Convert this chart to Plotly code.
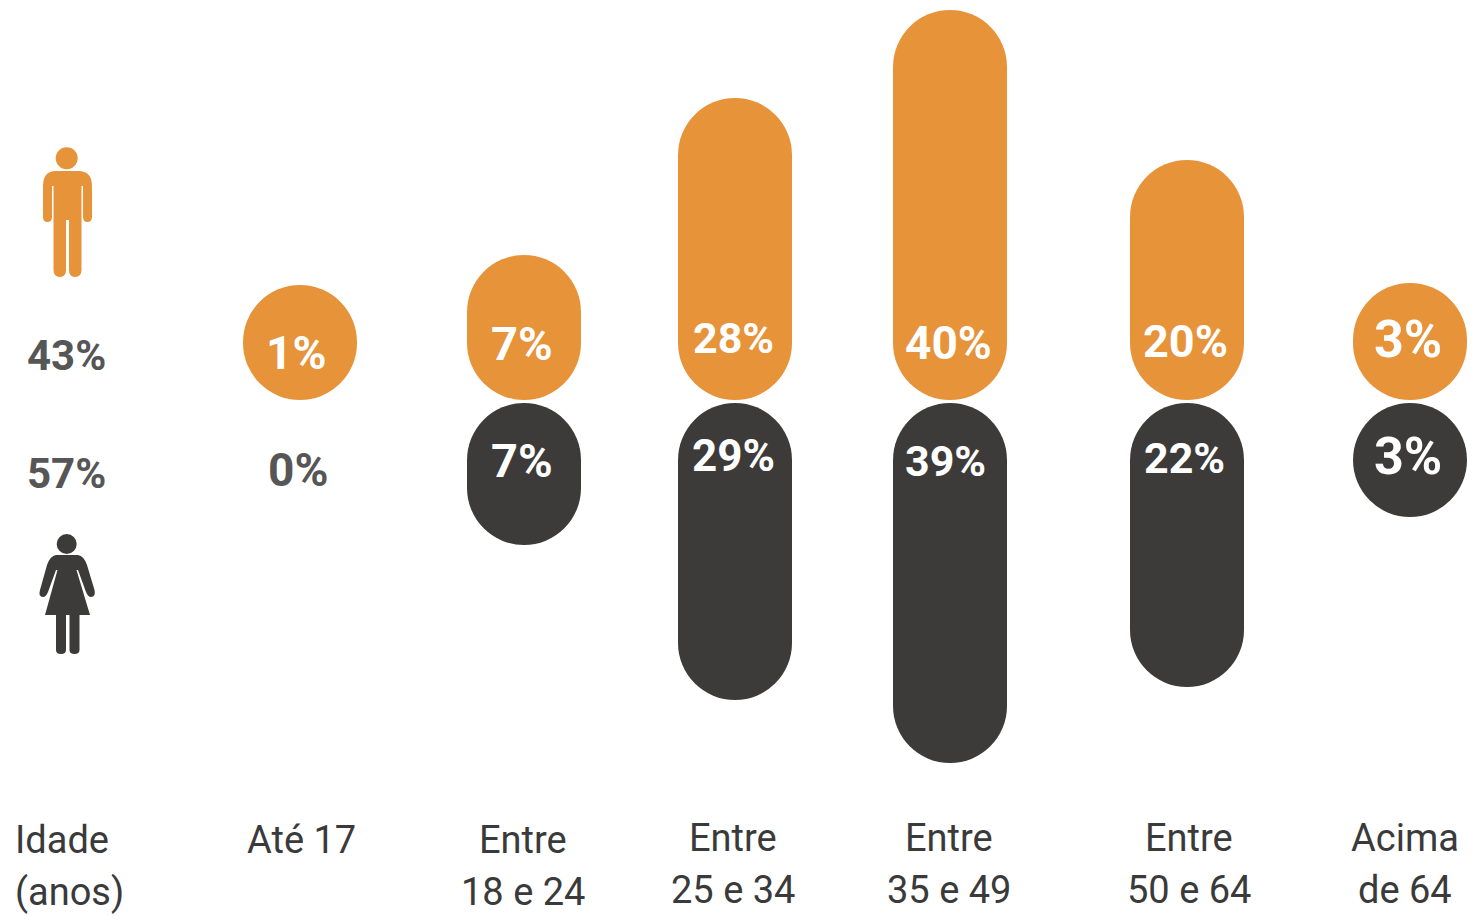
import plotly.graph_objects as go

# ---- data ----
age_groups = ["Até 17", "Entre<br>18 e 24", "Entre<br>25 e 34", "Entre<br>35 e 49", "Entre<br>50 e 64", "Acima<br>de 64"]
men_pct = [1, 7, 28, 40, 20, 3]
women_pct = [0, 7, 29, 39, 22, 3]
men_pill_length = [115, 145, 302, 390, 240, 117]
women_pill_length = [0, 142, 297, 360, 284, 114]
men_total = "43%"
women_total = "57%"
axis_title = "Idade<br>(anos)"

# ---- layout constants ----
W, H = 1480, 923
MID = 401.5
GAP = 1.5
PILL = 114
group_x = [300, 524, 735, 950, 1187, 1410]
men_label_y = [353, 343, 338, 343, 341, 339]
women_label_y = [470, 460, 456, 461, 458, 456]
men_label_x = [296, 522, 733, 948, 1185, 1408]
women_label_x = [298, 522, 733, 945, 1184, 1408]
men_label_size = [46, 47, 43, 46, 45, 52]
women_label_size = [46, 47, 44, 43, 43, 52]
cat_x = [301, 523, 733, 949, 1189, 1405]
cat_y1 = [840, 840, 838, 838, 838, 838]
ORANGE = "#E6933A"
DARK = "#3D3B3A"
GREY = "#565656"
TEXT = "#3A3A3A"
FONT = "Roboto"


def Y(py):
    return MID - py


fig = go.Figure()


def add_pills(lengths, direction, color, name):
    fig.add_trace(go.Bar(
        x=group_x, y=[direction * v for v in lengths], base=[direction * GAP] * len(lengths), width=PILL,
        marker=dict(color=color, cornerradius="50%", line=dict(width=0)),
        name=name, showlegend=False, hoverinfo="skip",
    ))


add_pills(men_pill_length, 1, ORANGE, "Homens")
add_pills(women_pill_length, -1, DARK, "Mulheres")

annotations = []


def note(x, py, text, size, color, bold=True):
    annotations.append(dict(
        x=x, y=Y(py), xref="x", yref="y", text=f"<b>{text}</b>" if bold else text, showarrow=False,
        font=dict(family=FONT, size=size, color=color), xanchor="center", yanchor="middle",
    ))


for i, x in enumerate(group_x):
    note(men_label_x[i], men_label_y[i], f"{men_pct[i]}%", men_label_size[i], "white")
    note(women_label_x[i], women_label_y[i], f"{women_pct[i]}%", women_label_size[i],
         GREY if women_pct[i] == 0 else "white")

note(66, 355, men_total, 42, GREY)
note(66, 473, women_total, 42, GREY)

for x, py, label in zip(cat_x, cat_y1, age_groups):
    for j, part in enumerate(label.split("<br>")):
        note(x, py + 52 * j, part, 38, TEXT, bold=False)
for j, part in enumerate(axis_title.split("<br>")):
    annotations.append(dict(
        x=13, y=Y(840 + 52 * j), xref="x", yref="y", text=part, showarrow=False,
        font=dict(family=FONT, size=38, color=TEXT), xanchor="left", yanchor="middle",
    ))


def path(points):
    """Build an SVG path from (cmd, px, py, ...) tuples in picture coordinates."""
    out = []
    for p in points:
        cmd, vals = p[0], p[1:]
        coords = []
        for k in range(0, len(vals), 2):
            coords.append(f"{vals[k]},{Y(vals[k + 1])}")
        out.append(cmd + " ".join(coords))
    return " ".join(out) + " Z"


man = [("M", 43, 186), ("Q", 43, 171, 56, 171), ("L", 78, 171), ("Q", 92, 171, 92, 186), ("L", 92, 217),
       ("Q", 92, 222, 87.5, 222), ("Q", 83, 222, 83, 217), ("L", 83, 186), ("L", 81.5, 186), ("L", 81.5, 270),
       ("Q", 81.5, 277, 75, 277), ("Q", 69, 277, 69, 270), ("L", 69, 220), ("L", 66, 220), ("L", 66, 270),
       ("Q", 66, 277, 60, 277), ("Q", 53.5, 277, 53.5, 270), ("L", 53.5, 186), ("L", 52, 186), ("L", 52, 217),
       ("Q", 52, 222, 47.5, 222), ("Q", 43, 222, 43, 217)]
woman = [("M", 56, 555), ("L", 78, 555), ("Q", 84, 556, 87, 565), ("L", 94.5, 590), ("Q", 96, 597, 91, 597),
         ("Q", 88, 597, 86, 592), ("L", 78, 570), ("L", 76.5, 570), ("L", 90, 615), ("L", 79.5, 615),
         ("L", 79.5, 650), ("Q", 79.5, 654, 74.5, 654), ("Q", 69.5, 654, 69.5, 650), ("L", 69.5, 615),
         ("L", 66, 615), ("L", 66, 650), ("Q", 66, 654, 61, 654), ("Q", 56, 654, 56, 650), ("L", 56, 615),
         ("L", 45, 615), ("L", 57.5, 570), ("L", 56, 570), ("L", 48, 592), ("Q", 46, 597, 43, 597),
         ("Q", 38, 597, 40, 590), ("L", 47, 565), ("Q", 50, 556, 56, 555)]

shapes = [
    dict(type="path", path=path(man), xref="x", yref="y", fillcolor=ORANGE, line=dict(width=0)),
    dict(type="circle", x0=55.7, x1=77.7, y0=Y(147.3), y1=Y(169.3), xref="x", yref="y",
         fillcolor=ORANGE, line=dict(width=0)),
    dict(type="path", path=path(woman), xref="x", yref="y", fillcolor=DARK, line=dict(width=0)),
    dict(type="circle", x0=56.7, x1=76.7, y0=Y(534), y1=Y(554), xref="x", yref="y",
         fillcolor=DARK, line=dict(width=0)),
]

fig.update_layout(
    width=W, height=H, margin=dict(l=0, r=0, t=0, b=0), barmode="overlay",
    paper_bgcolor="white", plot_bgcolor="white", showlegend=False,
    xaxis=dict(range=[0, W], visible=False, fixedrange=True),
    yaxis=dict(range=[Y(H), Y(0)], visible=False, fixedrange=True),
    annotations=annotations, shapes=shapes,
)
fig.write_html("out.html", config={"displayModeBar": False},
               post_script="document.body.style.margin='0';document.body.style.overflow='hidden';")
